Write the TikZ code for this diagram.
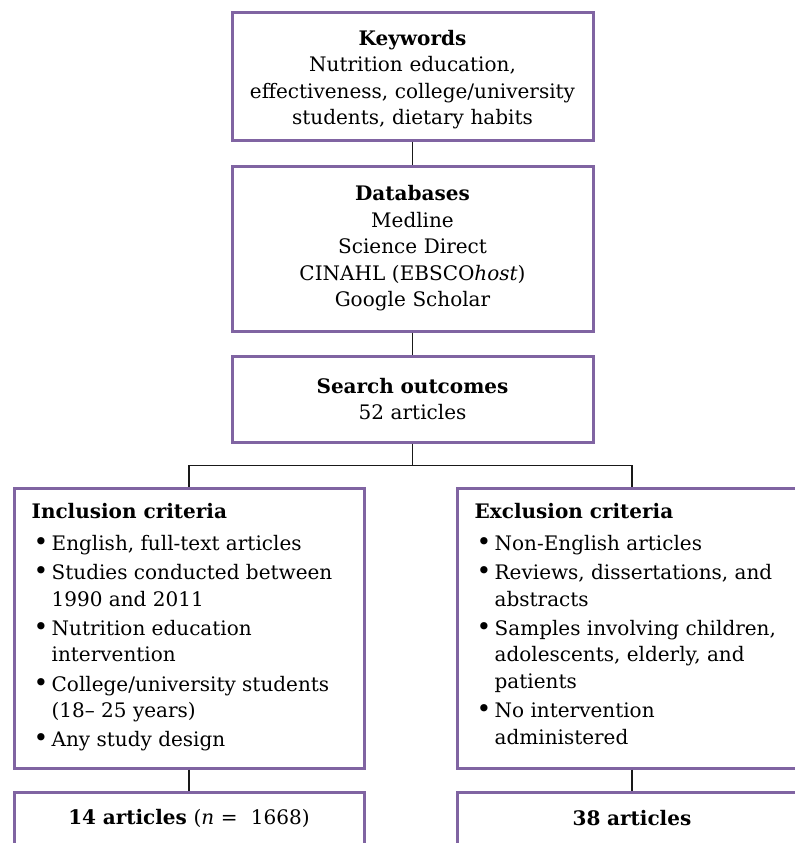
\documentclass[tikz,border=0pt]{standalone}
\usepackage{fontspec}
\setmainfont{DejaVu Serif}
\usepackage{tikz}
\definecolor{rvpurple}{RGB}{128,100,162}
\definecolor{rvblack}{RGB}{25,25,25}
\newcommand{\critem}[1]{\par\vspace{2pt}\hangindent=15pt\hangafter=1\noindent\makebox[15pt][l]{\hspace{1.5pt}\scalebox{1.25}{\textbullet}}#1\par}
\newcommand{\critbody}[1]{\parbox[c][187pt][t]{236pt}{\raggedright #1}}

\begin{document}
\begin{tikzpicture}[x=0.75pt,y=-0.75pt,
  revbox/.style={draw=rvpurple,line width=2.25pt,inner xsep=13pt,inner ysep=0pt,
    font=\fontsize{15}{19.9}\selectfont},
  midbox/.style={revbox,inner xsep=4pt,minimum width=270.75pt,text width=255pt,align=center},
  critbox/.style={revbox,minimum width=262.5pt,minimum height=210pt},
  outbox/.style={revbox,minimum width=262.5pt,minimum height=39.75pt,text width=236pt,align=center},
  conn/.style={draw=rvblack,line width=1.1pt}]
\useasboundingbox (0,0) rectangle (795,843);
\clip (0,0) rectangle (795,843); %the lower boxes run off the page
\node[midbox,minimum height=96pt] (kw) at (412.5,76) {\rule{0pt}{17pt}\textbf{Keywords}\\Nutrition education,\\effectiveness, college/university\\students, dietary habits};
\node[midbox,minimum height=123.75pt] (db) at (412.5,248.5) {\textbf{Databases}\\Medline\\Science Direct\\CINAHL (EBSCO\textit{host})\\Google Scholar};
\node[midbox,minimum height=64.5pt] (so) at (412.5,399) {\textbf{Search outcomes}\\52 articles};
\node[critbox] (incl) at (189,628) {\critbody{\textbf{Inclusion criteria}\par\vspace{2pt}
  \critem{English, full-text articles}
  \critem{Studies conducted between\newline 1990 and 2011}
  \critem{Nutrition education\newline intervention}
  \critem{College/university students\newline (18-- 25 years)}
  \critem{Any study design}}};
\node[critbox] (excl) at (632,628) {\critbody{\textbf{Exclusion criteria}\par\vspace{2pt}
  \critem{Non-English articles}
  \critem{Reviews, dissertations, and\newline abstracts}
  \critem{Samples involving children,\newline adolescents, elderly, and\newline patients}
  \critem{No intervention\newline administered}}};
\node[outbox] (incres) at (189,818.5) {\textbf{14 articles} (\textit{n} =~ 1668)};
\node[outbox] (excres) at (632,818.5) {\textbf{38 articles}};
\coordinate (split) at (412.5,465.5);
\draw[conn] (kw) -- (db);
\draw[conn] (db) -- (so);
\draw[conn] (so) -- (split) -| (incl);
\draw[conn] (split) -| (excl);
\draw[conn] (incl) -- (incres);
\draw[conn] (excl) -- (excres);
\end{tikzpicture}
\end{document}
